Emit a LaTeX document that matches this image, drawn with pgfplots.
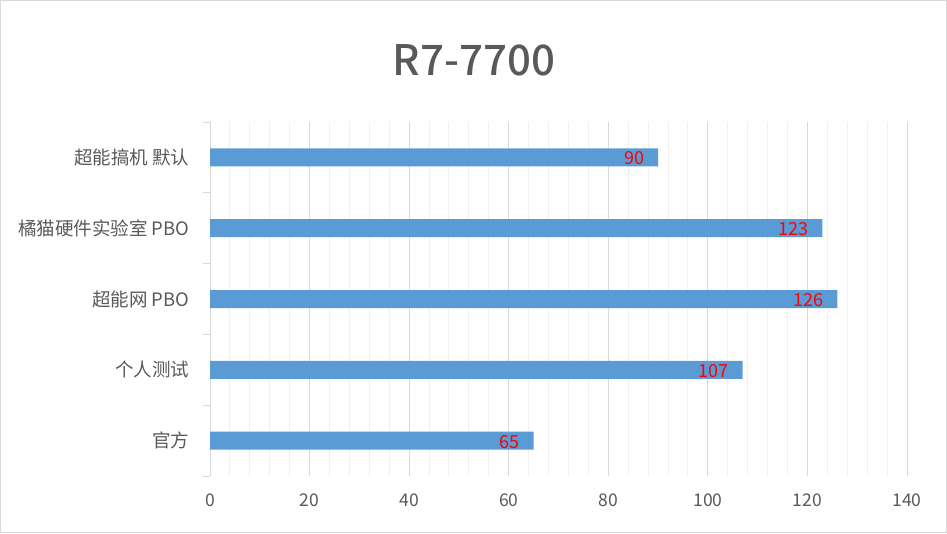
\documentclass[border=0pt]{standalone}
\usepackage{pgfplots}
\pgfplotsset{compat=1.18}
\usepackage{fontspec}
\setmainfont{Noto Sans CJK SC}
\newfontfamily\titlefont{Noto Sans CJK SC}[UprightFont=* Medium]
\definecolor{barblue}{HTML}{5B9BD5}
\definecolor{txtgray}{HTML}{595959}
\definecolor{majgrid}{HTML}{D9D9D9}
\definecolor{mingrid}{HTML}{F0F0F0}
\begin{document}
\begin{tikzpicture}
\draw[majgrid, line width=1pt] (0.5pt,0.5pt) rectangle (946.5pt,532.5pt);
\node[text=txtgray, font=\titlefont\fontsize{42}{48}\selectfont] at (474pt,473pt) {R7-7700};
\begin{axis}[
  at={(210pt,57pt)}, anchor=south west,
  scale only axis, width=697pt, height=354pt,
  xbar, bar width=18pt,
  xmin=0, xmax=140, ymin=-0.5, ymax=4.5,
  xtick={0,20,...,140}, minor x tick num=4,
  xmajorgrids, xminorgrids,
  major grid style={majgrid, line width=1pt},
  minor grid style={mingrid, line width=1pt},
  axis x line*=bottom, axis y line*=left,
  x axis line style={draw=none},
  y axis line style={majgrid, line width=1pt},
  tick style={majgrid, line width=1pt},
  major tick length=0pt, minor tick length=0pt,
  ytick={0,1,2,3,4},
  yticklabels={官方,个人测试,超能网 PBO,橘猫硬件实验室 PBO,超能搞机 默认},
  extra y ticks={-0.5,0.5,1.5,2.5,3.5,4.5},
  extra y tick labels={},
  extra y tick style={major tick length=7pt, tick align=outside, ymajorgrids=false},
  xticklabel style={font=\fontsize{17.5}{20}\selectfont, text=txtgray, yshift=-14pt},
  yticklabel style={font=\fontsize{18.5}{22}\selectfont, text=txtgray, xshift=-17pt},
  /pgf/number format/assume math mode=true,
  nodes near coords,
  nodes near coords style={anchor=east, xshift=-10.5pt, yshift=-1pt, text=red, font=\fontsize{18}{20}\selectfont, /pgf/number format/assume math mode=true},
]
\addplot[fill=barblue, draw=none] coordinates {(65,0) (107,1) (126,2) (123,3) (90,4)};
\end{axis}
\end{tikzpicture}
\end{document}
